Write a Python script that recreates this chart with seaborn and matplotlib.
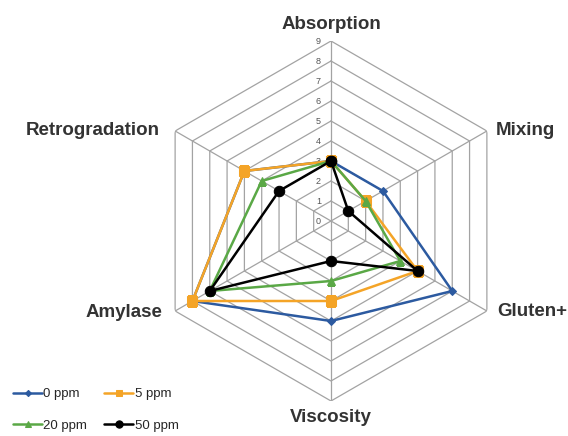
import numpy as np
import matplotlib
matplotlib.use("Agg")
import matplotlib.pyplot as plt
import seaborn as sns

# chart data
categories = ["Absorption", "Mixing", "Gluten+", "Viscosity", "Amylase", "Retrogradation"]
series_names = ["0 ppm", "5 ppm", "20 ppm", "50 ppm"]
ppm_0 = [3, 3, 7, 5, 8, 5]
ppm_5 = [3, 2, 5, 4, 8, 5]
ppm_20 = [3, 2, 4, 3, 7, 4]
ppm_50 = [3, 1, 5, 2, 7, 3]
levels = list(range(0, 10))

sns.set_theme(style="white")
plt.rcParams["font.family"] = ["Liberation Sans", "DejaVu Sans"]

colors = ["#2c5aa0", "#f4a427", "#5aa846", "#000000"]
markers = ["D", "s", "^", "o"]
msizes = [4.5, 6.5, 5.5, 7.5]

fig = plt.figure(figsize=(5.68, 4.36), dpi=100)
# center at (331, 221) px, radius 180 px
cx, cy, rad = 331 / 568, 1 - 221 / 436, 180
ax = fig.add_axes([cx - rad / 568, cy - rad / 436, 2 * rad / 568, 2 * rad / 436],
                  projection="polar")
ax.set_theta_offset(np.pi / 2)
ax.set_theta_direction(-1)
ax.set_ylim(0, 9)
ax.grid(False)
ax.spines["polar"].set_visible(False)
ax.set_xticks([])
ax.set_yticks([])
ax.patch.set_alpha(0)

n = len(categories)
theta = np.linspace(0, 2 * np.pi, n + 1)

# hexagonal grid and spokes
grid_col = "#a3a3a3"
for lv in levels[1:]:
    ax.plot(theta, [lv] * (n + 1), color=grid_col, lw=0.9, zorder=1)
for t in theta[:-1]:
    ax.plot([t, t], [0, 9], color=grid_col, lw=0.9, zorder=1)

# radial value labels
for lv in levels:
    ax.annotate(str(lv), xy=(0, lv), xytext=(-10, 0), textcoords="offset pixels",
                ha="right", va="center", fontsize=6.5, color="#555555")

# series
all_vals = [ppm_0, ppm_5, ppm_20, ppm_50]
for name, vals, c, m, ms in zip(series_names, all_vals, colors, markers, msizes):
    sns.lineplot(x=theta, y=vals + vals[:1], ax=ax, sort=False, estimator=None,
                 color=c, lw=1.8, marker=m, markersize=ms, mec=c, mfc=c,
                 label=name, zorder=3)
if ax.get_legend() is not None:
    ax.get_legend().remove()
h, l = ax.get_legend_handles_labels()

# category labels
label_offsets = [(0, 17, "center"), (9, 1, "left"), (10, 0, "left"),
                 (0, -16, "center"), (-13, -1, "right"), (-15, 1, "right")]
for cat, t, (dx, dy, ha) in zip(categories, theta[:-1], label_offsets):
    ax.annotate(cat, xy=(t, 9), xytext=(dx, dy), textcoords="offset pixels",
                ha=ha, va="center", fontsize=13.5, fontweight="bold", color="#333333",
                annotation_clip=False)

order = [0, 2, 1, 3]
fig.legend([h[i] for i in order], [l[i] for i in order], ncol=2,
           loc="upper left", bbox_to_anchor=(13 / 568, 1 - 388 / 436),
           frameon=False, fontsize=9.5, handlelength=2.2, handletextpad=0.1,
           columnspacing=1.3, labelspacing=1.45, borderpad=0, borderaxespad=0,
           markerscale=0.7)

fig.savefig("out.png", dpi=100)
